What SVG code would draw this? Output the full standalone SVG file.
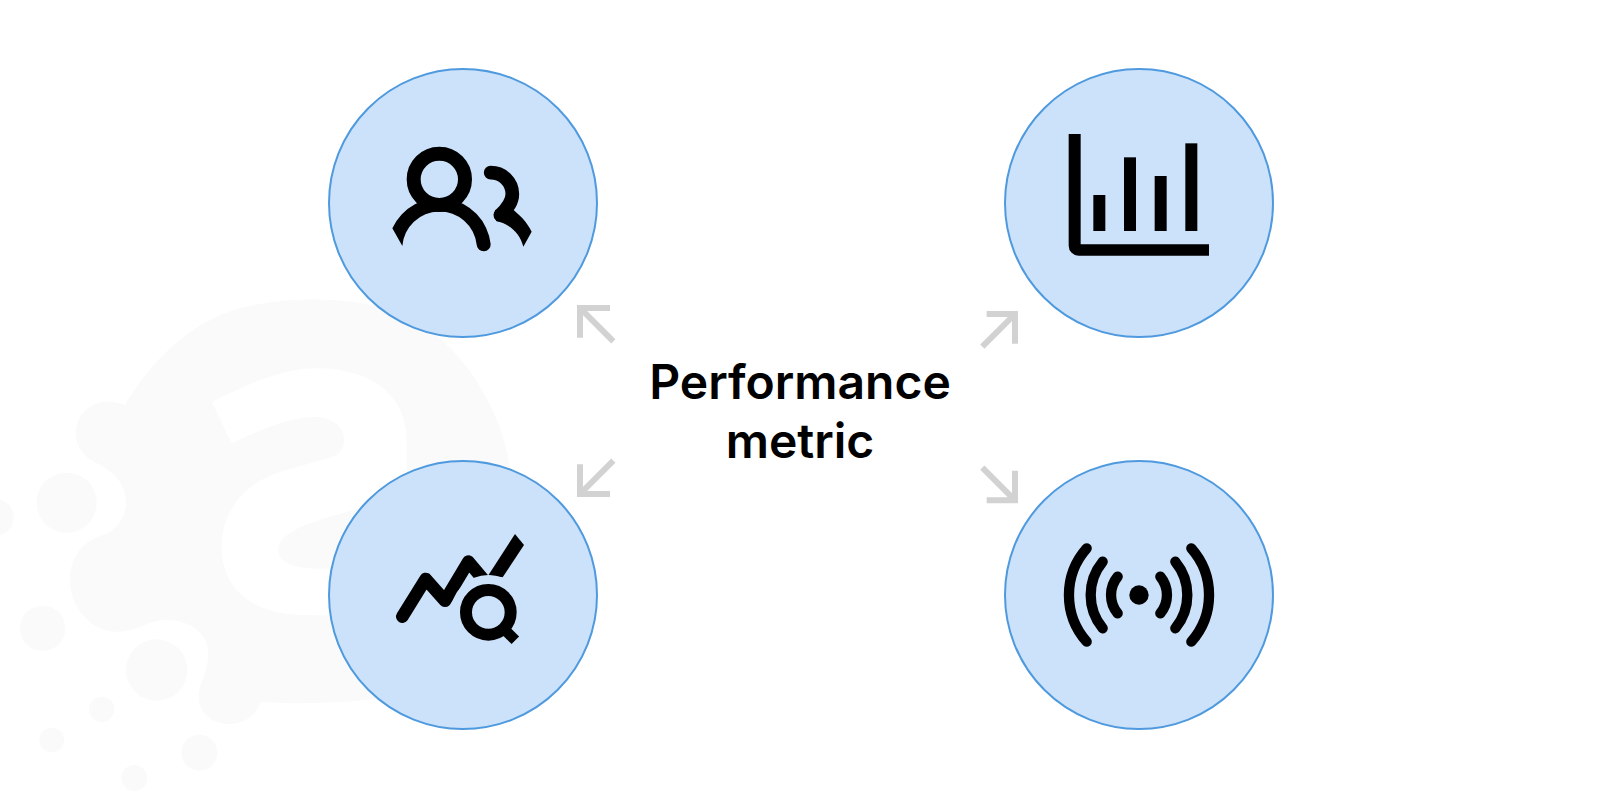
<svg xmlns="http://www.w3.org/2000/svg" width="1600" height="800" viewBox="0 0 1600 800">
<style>
.disc{fill:#cce2fa;stroke:#4f9ade;stroke-width:2}
.ink{fill:#000}
.line{fill:none;stroke:#000;stroke-linecap:round;stroke-linejoin:round}
.arrow{fill:none;stroke:#d2d2d2;stroke-width:18;stroke-linejoin:miter}
.blob{fill:#fafafa}
.title{font-family:Inter,"Liberation Sans",sans-serif;font-weight:600;font-size:48px;fill:#000;text-anchor:middle}
</style>
<rect width="1600" height="800" fill="#fff"/>
<g id="background" transform="translate(0 280) scale(.33333)">
<path class="blob" d="M375 375C450 250 560 130 720 85C850 50 1060 45 1200 100C1370 170 1500 370 1530 560L1300 1230C1150 1260 950 1280 780 1265C770 1310 730 1332 685 1332C630 1332 590 1290 597 1240C602 1200 625 1170 625 1120C625 1060 570 1020 500 1020C440 1020 420 1055 350 1055C270 1055 210 980 210 900C210 830 250 780 310 765C350 750 378 710 378 670C378 610 340 575 290 550C250 530 228 500 228 460C228 400 275 365 320 365C340 365 360 368 375 375Z"/>
<path fill="#fff" d="M635 365C750 310 850 265 950 265C1130 265 1220 360 1220 480L1220 1010L900 1005C750 1000 665 920 665 800C665 690 740 600 860 570L1000 530C1050 510 1050 420 950 410C870 410 780 450 695 490Z"/>
<path class="blob" d="M1100 680C950 720 835 750 835 810C835 860 920 870 1000 865L1150 850Z"/>
<circle class="blob" cx="200" cy="668" r="90"/>
<circle class="blob" cx="-15" cy="712" r="56"/>
<circle class="blob" cx="128" cy="1045" r="68"/>
<circle class="blob" cx="470" cy="1170" r="92"/>
<circle class="blob" cx="305" cy="1288" r="38"/>
<circle class="blob" cx="155" cy="1380" r="37"/>
<circle class="blob" cx="598" cy="1418" r="54"/>
<circle class="blob" cx="403" cy="1494" r="39"/>
</g>
<g id="connectors" transform="translate(550 290) scale(.33333)">
<path class="arrow" d="M190 154L90 54M180 54H90V143"/>
<path class="arrow" d="M190 512L90 612M90 523V612H180"/>
<path class="arrow" d="M1297 170L1395 72M1310 72H1395V161"/>
<path class="arrow" d="M1297 533L1395 631M1395 542V631H1310"/>
</g>
<g id="node-users">
<circle class="disc" cx="463" cy="203" r="134"/>
<g transform="translate(360 120) scale(.33333)">
<circle cx="238" cy="178" r="77" fill="none" stroke="#000" stroke-width="42"/>
<path class="ink" d="M97 325A155 155 0 0 1 392 372A20 20 0 0 1 350 374A112 112 0 0 0 127 378Z"/>
<path class="line" stroke-width="41" d="M392 158C428 158 457 186 457 222C457 245 445 262 421 285"/>
<path class="ink" d="M408 303C450 312 480 340 490 380L515 335C500 305 480 285 450 262L405 270Z"/>
</g>
</g>
<g id="node-chart">
<circle class="disc" cx="1139" cy="203" r="134"/>
<g transform="translate(1020 120) scale(.33333)">
<path class="ink" d="M146 42H182V373H567V407H176A30 30 0 0 1 146 377Z"/>
<rect class="ink" x="220" y="225" width="36" height="108"/>
<rect class="ink" x="312" y="112" width="36" height="221"/>
<rect class="ink" x="404" y="168" width="36" height="165"/>
<rect class="ink" x="496" y="70" width="36" height="263"/>
</g>
</g>
<g id="node-trend">
<circle class="disc" cx="463" cy="595" r="134"/>
<g transform="translate(360 500) scale(.33333)">
<path class="line" stroke-width="38" d="M127 350L197 237L255 302L325 185L380 250"/>
<path class="ink" d="M465 102L492 135L428 232L385 226Z"/>
<circle cx="385" cy="337" r="112" fill="#cce2fa"/>
<circle cx="385" cy="337" r="67" fill="none" stroke="#000" stroke-width="36"/>
<path d="M425 380L466 421" fill="none" stroke="#000" stroke-width="32"/>
</g>
</g>
<g id="node-signal">
<circle class="disc" cx="1139" cy="595" r="134"/>
<g transform="translate(1020 500) scale(.33333)">
<circle class="ink" cx="357" cy="285" r="29"/>
<g class="line" stroke-width="31">
<path d="M200 145A211 211 0 0 0 200 425"/>
<path d="M248 185A157 157 0 0 0 248 385"/>
<path d="M293 230A86 86 0 0 0 293 340"/>
<path d="M514 145A211 211 0 0 1 514 425"/>
<path d="M466 185A157 157 0 0 1 466 385"/>
<path d="M421 230A86 86 0 0 1 421 340"/>
</g>
</g>
</g>
<g id="node-title">
<text class="title" x="800" y="399">Performance</text>
<text class="title" x="800" y="458">metric</text>
</g>
</svg>
